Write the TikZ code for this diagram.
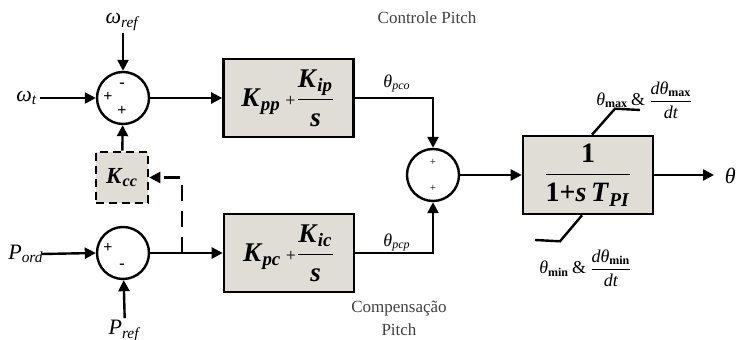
\documentclass[tikz,border=0pt]{standalone}
\usepackage{fontspec}
\setmainfont{Liberation Serif}
\usepackage{amsmath}
\usepackage{tikz}
\usetikzlibrary{arrows.meta,positioning,calc}
\definecolor{blocoBg}{HTML}{E0DDD7}
\newcommand{\bi}[1]{\textbf{\textit{#1}}}
\newcommand{\vsub}[2]{\textit{#1}\textsubscript{\textit{#2}}}
\tikzset{
  bloco/.style={draw=black, line width=1.3pt, fill=blocoBg, align=center, minimum width=65pt, minimum height=39pt, inner sep=1pt, font=\fontsize{13.5}{15}\selectfont},
  soma/.style={draw=black, line width=1.2pt, circle, minimum size=26pt, inner sep=0pt},
  sinal/.style={font=\fontsize{8}{9}\selectfont\bfseries, inner sep=0pt},
  rotulo/.style={font=\fontsize{11}{13}\selectfont, inner sep=1pt},
  arrflow/.style={-{Triangle[length=5.5pt,width=5.5pt]}, line width=1.2pt},
  linha/.style={line width=1.2pt},
}
\begin{document}
\begin{tikzpicture}[x=0.5pt, y=-0.5pt]
\useasboundingbox (0,0) rectangle (737,340);
% somadores
\node[soma] (s1) at (123,98) {};
\node[soma] (s2) at (123,253) {};
\node[soma] (s3) at (433,175) {};
\node[sinal] at ([shift={(-1,-13)}]s1.center) {-};
\node[sinal] at ([shift={(-15,-1)}]s1.center) {+};
\node[sinal] at ([shift={(-1,13)}]s1.center) {+};
\node[sinal] at ([shift={(-15,-5)}]s2.center) {+};
\node[sinal] at ([shift={(-1,13)}]s2.center) {-};
\node[sinal, font=\fontsize{5.5}{6}\selectfont] at ([shift={(0,-13)}]s3.center) {+};
\node[sinal, font=\fontsize{5.5}{6}\selectfont] at ([shift={(0,13)}]s3.center) {+};
% blocos
\node[bloco] (pp) at (288.5,98) {\bi{K}\textsubscript{\bi{pp}}\,{\normalfont\small+}$\dfrac{\text{\bi{K}\textsubscript{\bi{ip}}}}{\text{\bi{s}}}$};
\node[bloco] (pc) at (289,253) {\bi{K}\textsubscript{\bi{pc}}\,{\normalfont\small+}$\dfrac{\text{\bi{K}\textsubscript{\bi{ic}}}}{\text{\bi{s}}}$};
\node[bloco, font=\fontsize{14}{16}\selectfont] (pi) at (588,175) {$\dfrac{\text{\textbf{1}}}{\text{\textbf{1+}\bi{s\,T}\textsubscript{\bi{PI}}}}$};
\node[bloco, dashed, dash pattern=on 4pt off 2.5pt, minimum width=26pt, minimum height=25.5pt, font=\fontsize{11.5}{13}\selectfont] (kcc) at (122,177.5) {\bi{K}\textsubscript{\bi{cc}}};
% entradas
\node[rotulo] (wref) at (123,22) {\vsub{ω}{ref}};
\node[rotulo] (wt) at (27,98) {\vsub{ω}{t}};
\node[rotulo] (pord) at (26,254) {\vsub{P}{ord}};
\node[rotulo] (pref) at (125,331) {\vsub{P}{ref}};
\draw[arrflow] (wref) -- (s1);
\draw[arrflow] (wt) -- (s1);
\draw[arrflow] (pord.east) ++(-4,0) -- (s2.west);
\draw[arrflow] (pref) -- (s2);
\draw[arrflow] (kcc) -- (s1);
% ramos
\draw[arrflow] (s1) -- (pp);
\coordinate (ramo) at (182,253);
\draw[linha] (s2) -- (ramo);
\draw[arrflow] (ramo) -- (pc);
\draw[arrflow, dashed, dash pattern=on 8pt off 5pt] (ramo) |- (kcc.east);
\draw[arrflow] (pp) -| (s3);
\draw[arrflow] (pc) -| (s3);
\node[rotulo, font=\fontsize{9}{10}\selectfont] (tpco) at (397,83) {\vsub{θ}{pco}};
\node[rotulo, font=\fontsize{9}{10}\selectfont] (tpcp) at (397,242) {\vsub{θ}{pcp}};
\draw[arrflow] (s3) -- (pi);
\coordinate (saida) at (714,175);
\draw[arrflow] (pi) -- (saida);
\node[rotulo, anchor=east, inner sep=0pt] (theta) at (736,176) {\textit{θ}};
% limites
\coordinate (lmax) at (640,110);
\coordinate (lmin) at (535,240);
\draw[linha] ([xshift=2]pi.north) -- ++(23,-26) -- (lmax);
\draw[linha] ([xshift=-3]pi.south) -- ++(-22,26) -- (lmin);
\node[rotulo, font=\fontsize{9}{10}\selectfont] (tmax) at (645,100) {\textit{θ}\textsubscript{\textbf{max}}\,\&\,$\dfrac{\text{\textit{dθ}\textsubscript{\textbf{max}}}}{\text{\textit{dt}}}$};
\node[rotulo, font=\fontsize{9}{10}\selectfont] (tmin) at (586,268) {\textit{θ}\textsubscript{\textbf{min}}\,\&\,$\dfrac{\text{\textit{dθ}\textsubscript{\textbf{min}}}}{\text{\textit{dt}}}$};
% titulos
\node[font=\fontsize{8.5}{10}\selectfont, text=black!75] (ctrl) at (427,18) {Controle Pitch};
\node[font=\fontsize{8.5}{11.5}\selectfont, text=black!75, align=center] (comp) at (399,318) {Compensação\\Pitch};
\end{tikzpicture}
\end{document}
